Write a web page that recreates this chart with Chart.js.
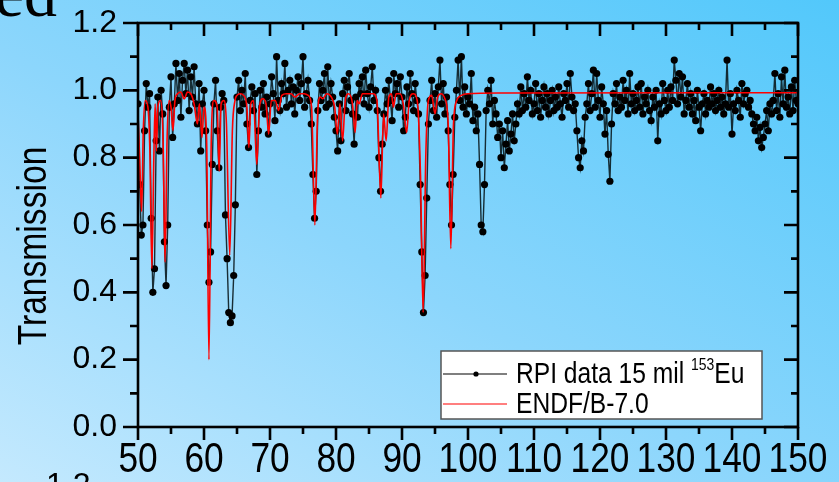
<!DOCTYPE html>
<html>
<head>
<meta charset="utf-8">
<script src="https://cdn.jsdelivr.net/npm/chart.js@4.4.1/dist/chart.umd.min.js"></script>
<style>
  html, body { margin: 0; padding: 0; }
  body {
    width: 839px; height: 482px; overflow: hidden; position: relative;
    background: linear-gradient(to top right, #c4e9fe 0%, #8cd6fc 45%, #52c8fb 100%);
  }
  #chart { position: absolute; left: 0; top: 0; }
</style>
</head>
<body>
<canvas id="chart" width="839" height="482"></canvas>
<script>
// RPI measurement, transmission sampled every 0.25 from 50 to 150
const E_START = 50;
const E_STEP = 0.25;
const rpiTrans = [
  0.96, 0.72, 0.57, 0.60,  0.88, 1.02, 0.95, 0.99,  0.62, 0.40, 0.47, 0.85,  0.98, 0.82, 1.00, 0.93, // 50-53
  0.55, 0.42, 0.60, 0.95,  1.04, 0.86, 0.96, 1.08,  0.97, 1.05, 0.92, 1.03,  1.08, 0.99, 1.06, 0.94, // 54-57
  1.04, 0.98, 1.07, 0.96,  0.90, 1.02, 0.82, 0.96,  1.00, 0.88, 0.60, 0.43,  0.52, 0.78, 0.96, 1.03, // 58-61
  0.88, 0.77, 0.95, 0.99,  0.97, 0.63, 0.50, 0.34,  0.31, 0.33, 0.45, 0.66,  0.98, 1.03, 0.94, 1.00, // 62-65
  0.96, 1.05, 0.90, 0.83,  0.97, 1.01, 0.94, 0.99,  0.75, 0.88, 1.00, 0.95,  1.02, 0.93, 0.98, 0.87, // 66-69
  0.96, 1.04, 0.99, 0.91,  1.10, 0.97, 0.94, 1.02,  0.99, 1.08, 0.95, 1.00,  1.03, 0.96, 1.01, 0.93, // 70-73
  1.00, 1.04, 0.97, 1.02,  1.10, 0.95, 0.99, 1.03,  0.97, 0.90, 0.75, 0.62,  0.70, 0.94, 1.02, 0.97, // 74-77
  1.00, 1.05, 0.95, 1.07,  0.96, 1.02, 0.98, 0.92,  0.88, 0.82, 0.96, 0.85,  0.99, 1.03, 0.94, 1.01, // 78-81
  1.05, 0.97, 0.93, 0.84,  0.98, 0.92, 1.02, 0.99,  1.04, 0.96, 1.06, 0.99,  0.95, 1.01, 1.07, 0.97, // 82-85
  1.00, 0.94, 0.80, 0.70,  0.84, 0.93, 1.00, 0.96,  1.03, 0.97, 0.91, 1.05,  0.99, 1.02, 0.95, 1.04, // 86-89
  0.98, 0.88, 0.92, 1.01,  0.96, 1.05, 0.99, 0.94,  1.02, 0.97, 0.93, 0.72,  0.52, 0.34, 0.45, 0.68, // 90-93
  0.90, 0.97, 1.03, 0.94,  0.99, 0.92, 1.01, 1.09,  0.96, 1.02, 0.93, 0.98,  0.88, 0.72, 0.60, 0.75, // 94-97
  0.92, 1.00, 1.09, 0.97,  1.10, 0.95, 1.01, 0.93,  0.98, 0.96, 1.05, 0.91,  0.95, 0.88, 0.93, 0.78, // 98-101
  0.60, 0.58, 0.72, 0.94,  1.00, 0.96, 1.03, 0.90,  0.97, 0.93, 0.86, 0.90,  0.80, 0.88, 0.77, 0.84, // 102-105
  0.91, 0.82, 0.87, 0.93,  0.85, 0.90, 0.96, 0.93,  1.01, 0.94, 0.99, 0.95,  1.04, 0.97, 1.00, 0.93, // 106-109
  0.96, 1.02, 0.94, 0.99,  0.92, 0.97, 1.01, 0.95,  0.99, 0.93, 0.97, 1.00,  0.94, 0.98, 0.95, 1.01, // 110-113
  0.96, 0.92, 0.99, 0.97,  1.02, 0.95, 1.05, 0.98,  0.94, 0.96, 0.88, 0.80,  0.77, 0.85, 0.82, 0.92, // 114-117
  0.96, 1.02, 0.94, 0.99,  1.06, 0.95, 1.05, 0.97,  0.92, 1.01, 0.96, 0.87,  0.94, 0.81, 0.73, 0.90, // 118-121
  0.99, 0.96, 1.02, 0.94,  0.98, 0.95, 1.03, 0.97,  1.00, 0.93, 1.05, 0.96,  0.99, 0.94, 0.97, 1.01, // 122-125
  0.95, 1.02, 0.93, 0.98,  0.96, 1.00, 0.94, 0.91,  0.98, 0.95, 1.00, 0.85,  0.96, 0.93, 1.02, 0.97, // 126-129
  0.94, 1.00, 0.95, 1.01,  0.97, 1.09, 1.03, 0.96,  1.05, 0.98, 1.04, 0.93,  0.97, 1.02, 0.95, 0.99, // 130-133
  0.93, 0.97, 0.91, 1.00,  0.95, 0.88, 0.96, 0.99,  0.93, 0.97, 0.95, 1.01,  0.96, 0.99, 0.94, 0.97, // 134-137
  1.00, 0.95, 0.98, 0.93,  0.96, 1.09, 0.95, 0.99,  0.87, 0.96, 0.94, 1.00,  0.97, 0.92, 1.02, 0.96, // 138-141
  0.99, 1.00, 0.95, 0.97,  0.93, 0.90, 0.88, 0.92,  0.85, 0.89, 0.83, 0.86,  0.90, 0.94, 0.88, 0.96, // 142-145
  0.93, 0.97, 1.05, 0.94,  0.99, 0.92, 1.04, 0.96,  1.06, 0.95, 0.98, 0.93,  1.01, 0.94, 1.03, 0.97, // 146-149
  0.96                                                                                              // 150
];

// ENDF/B-7.0 evaluation, resonance points
const endfE = [
  50.0, 50.25, 50.55, 50.8, 51.1, 51.5, 51.8, 52.1, 52.4, 52.6, 52.8, 53.0, 53.4, 53.8, 54.1, 54.4,
  54.7, 55.0, 55.3, 55.6, 56.0, 56.5, 57.0, 57.5, 58.0, 58.5, 59.0, 59.3, 59.7, 60.0, 60.4, 60.75,
  61.1, 61.5, 62.0, 62.3, 62.6, 63.0, 63.4, 63.9, 64.3, 64.7, 65.0, 65.5, 66.0, 66.5, 66.8, 67.1,
  67.5, 68.0, 68.4, 68.9, 69.4, 69.8, 70.2, 70.8, 71.3, 71.8, 72.5, 73.2, 73.8, 74.5, 75.2, 75.8,
  76.3, 76.8, 77.2, 77.6, 78.0, 78.6, 79.3, 79.8, 80.2, 80.6, 81.0, 81.4, 81.9, 82.5, 82.9, 83.2,
  83.5, 84.0, 84.8, 85.6, 86.2, 86.8, 87.2, 87.6, 88.0, 88.4, 88.7, 89.1, 89.7, 90.2, 90.7, 91.1,
  91.7, 92.3, 92.8, 93.2, 93.6, 94.0, 94.5, 95.0, 95.4, 95.9, 96.5, 97.0, 97.4, 97.8, 98.3, 99.0,
  100, 105, 150
];
const endfT = [
  0.93, 0.80, 0.64, 0.88, 0.97, 0.95, 0.82, 0.47, 0.80, 0.96, 0.82, 0.95, 0.97, 0.85, 0.49, 0.85,
  0.97, 0.95, 0.88, 0.97, 0.99, 0.995, 0.975, 0.995, 0.99, 0.96, 0.90, 0.96, 0.86, 0.95, 0.85, 0.20,
  0.85, 0.97, 0.95, 0.76, 0.96, 0.97, 0.90, 0.51, 0.88, 0.97, 0.985, 0.99, 0.985, 0.95, 0.83, 0.96,
  0.97, 0.78, 0.95, 0.975, 0.96, 0.87, 0.97, 0.97, 0.94, 0.985, 0.99, 0.99, 0.98, 0.99, 0.99, 0.985,
  0.95, 0.60, 0.92, 0.98, 0.975, 0.99, 0.98, 0.95, 0.87, 0.96, 0.85, 0.97, 0.99, 0.96, 0.875, 0.97,
  0.96, 0.99, 0.99, 0.99, 0.97, 0.68, 0.93, 0.85, 0.98, 0.99, 0.95, 0.99, 0.99, 0.96, 0.875, 0.97,
  0.99, 0.97, 0.75, 0.34, 0.80, 0.97, 0.985, 0.93, 0.98, 0.99, 0.975, 0.90, 0.53, 0.90, 0.97, 0.985,
  0.99, 0.992, 0.993
];

const X_MIN = 50, X_MAX = 150, X_MAJOR = 10, X_MINOR = 5;
const Y_MIN = 0, Y_MAX = 1.2, Y_MAJOR = 0.2, Y_MINOR = 0.1;

const SANS = "'Liberation Sans', Arial, sans-serif";
const NARROW = 0.82; // horizontal squeeze, no narrow face installed

const rpiPoints = rpiTrans.map((t, i) => ({ x: E_START + i * E_STEP, y: t }));
const endfPoints = endfE.map((e, i) => ({ x: e, y: endfT[i] }));

function narrowText(ctx, text, x, y, size, align, baseline) {
  ctx.save();
  ctx.translate(x, y);
  ctx.scale(NARROW, 1);
  ctx.font = size + "px " + SANS;
  ctx.textAlign = align;
  ctx.textBaseline = baseline;
  ctx.fillText(text, 0, 0);
  const w = ctx.measureText(text).width * NARROW;
  ctx.restore();
  return w;
}

// frame with major/minor ticks on all four sides, x labels
const frameTicks = {
  id: "frameTicks",
  afterDatasetsDraw(chart) {
    const { ctx, chartArea: a, scales } = chart;
    const xs = scales.x, ys = scales.y;
    ctx.save();
    ctx.strokeStyle = "#000";
    ctx.lineWidth = 2.6;
    ctx.strokeRect(a.left, a.top, a.right - a.left, a.bottom - a.top);
    ctx.beginPath();
    const nx = Math.round((X_MAX - X_MIN) / X_MINOR);
    for (let i = 0; i <= nx; i++) {
      const px = xs.getPixelForValue(X_MIN + i * X_MINOR);
      const len = i % 2 === 0 ? 13 : 7;
      ctx.moveTo(px, a.bottom);
      ctx.lineTo(px, a.bottom + len);
      ctx.moveTo(px, a.top);
      ctx.lineTo(px, a.top + len);
    }
    const ny = Math.round((Y_MAX - Y_MIN) / Y_MINOR);
    for (let i = 0; i <= ny; i++) {
      const py = ys.getPixelForValue(Y_MIN + i * Y_MINOR);
      const major = i % 2 === 0;
      ctx.moveTo(a.left, py);
      ctx.lineTo(a.left - (major ? 15 : 8), py);
      ctx.moveTo(a.right, py);
      ctx.lineTo(a.right - (major ? 14 : 7), py);
    }
    ctx.stroke();

    ctx.fillStyle = "#000";
    xs.ticks.forEach((t) => {
      narrowText(ctx, String(t.value), xs.getPixelForValue(t.value), 472, 43, "center", "alphabetic");
    });
    ctx.restore();
  }
};

// boxed legend, axis title and the clipped slide texts
const extras = {
  id: "extras",
  afterDraw(chart) {
    const { ctx, chartArea: a } = chart;
    ctx.save();
    ctx.fillStyle = "#000";

    // y axis title
    ctx.save();
    ctx.translate(35, 246);
    ctx.rotate(-Math.PI / 2);
    narrowText(ctx, "Transmission", 0, 0, 41, "center", "middle");
    ctx.restore();

    // cut-off texts from the slide
    ctx.font = "66px 'Liberation Serif', 'Times New Roman', serif";
    ctx.textAlign = "right";
    ctx.textBaseline = "alphabetic";
    ctx.fillText("ed", 57, 16);
    ctx.font = "32px " + SANS;
    ctx.textAlign = "left";
    ctx.fillText("1.2", 46, 495);

    // legend
    const lx = a.right - 357, ly = a.bottom - 76, lw = 321, lh = 68;
    ctx.fillStyle = "#fff";
    ctx.fillRect(lx, ly, lw, lh);
    ctx.strokeStyle = "#555";
    ctx.lineWidth = 1.5;
    ctx.strokeRect(lx, ly, lw, lh);

    const r1 = ly + 23, r2 = ly + 53;
    ctx.lineWidth = 1.3;
    ctx.beginPath();
    ctx.moveTo(lx + 2, r1); ctx.lineTo(lx + 66, r1);
    ctx.stroke();
    ctx.fillStyle = "#000";
    ctx.beginPath();
    ctx.arc(lx + 35, r1, 2.6, 0, Math.PI * 2);
    ctx.fill();
    ctx.strokeStyle = "#ff0000";
    ctx.lineWidth = 1.2;
    ctx.beginPath();
    ctx.moveTo(lx + 2, r2); ctx.lineTo(lx + 66, r2);
    ctx.stroke();

    let tx = lx + 75;
    tx += narrowText(ctx, "RPI data 15 mil ", tx, r1 + 1, 30, "left", "middle");
    tx += narrowText(ctx, "153", tx, r1 - 9, 17, "left", "middle");
    narrowText(ctx, "Eu", tx, r1 + 1, 30, "left", "middle");
    narrowText(ctx, "ENDF/B-7.0", lx + 75, r2 + 1, 30, "left", "middle");

    ctx.restore();
  }
};

new Chart(document.getElementById("chart"), {
  type: "scatter",
  data: {
    datasets: [
      {
        label: "ENDF/B-7.0",
        data: endfPoints,
        showLine: true,
        borderColor: "#ff0000",
        borderWidth: 1.6,
        pointRadius: 0,
        cubicInterpolationMode: "monotone",
        order: 0
      },
      {
        label: "RPI data 15 mil 153Eu",
        data: rpiPoints,
        showLine: true,
        borderColor: "rgba(10, 25, 30, 0.9)",
        borderWidth: 1.4,
        pointRadius: 3.6,
        pointBackgroundColor: "#000",
        pointBorderWidth: 0,
        order: 1
      }
    ]
  },
  options: {
    responsive: false,
    devicePixelRatio: 1,
    animation: false,
    layout: { padding: { top: 23, right: 41, left: 0, bottom: 0 } },
    plugins: {
      legend: { display: false },
      tooltip: { enabled: false }
    },
    scales: {
      x: {
        type: "linear",
        min: X_MIN,
        max: X_MAX,
        grid: { display: false, drawTicks: false },
        border: { display: false },
        ticks: { stepSize: X_MAJOR, autoSkip: false, maxRotation: 0, display: false },
        afterFit(scale) {
          scale.height = 55;
          scale.paddingLeft = 0;
          scale.paddingRight = 0;
        }
      },
      y: {
        min: Y_MIN,
        max: Y_MAX,
        grid: { display: false, drawTicks: false },
        border: { display: false },
        ticks: {
          stepSize: Y_MAJOR,
          padding: 21,
          color: "#000",
          font: { family: SANS, size: 32 },
          callback: (v) => Number(v).toFixed(1)
        },
        afterFit(scale) {
          scale.width = 138;
          scale.paddingTop = 0;
          scale.paddingBottom = 0;
        }
      }
    }
  },
  plugins: [frameTicks, extras]
});
</script>
</body>
</html>
